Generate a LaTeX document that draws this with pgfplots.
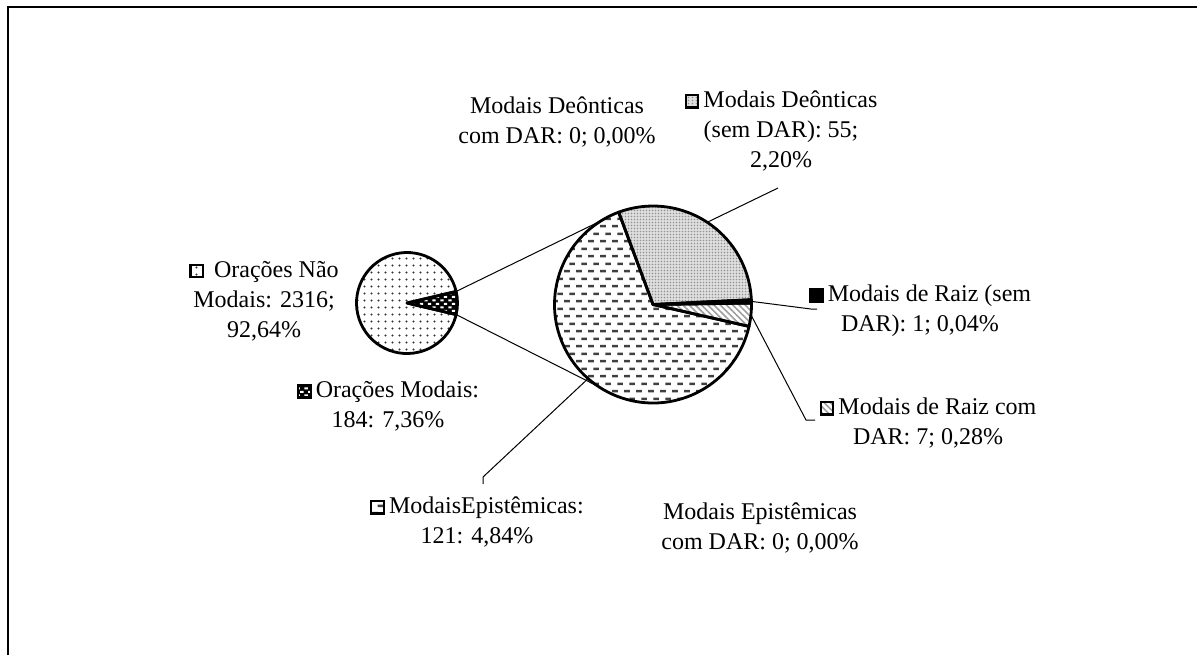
\documentclass[border=0pt]{standalone}
\usepackage{pgfplots}
\pgfplotsset{compat=1.18}
\usepackage{pgfplotstable}
\usetikzlibrary{patterns.meta,calc}
\usepackage{fontspec}
\setmainfont{Liberation Serif}

% ---------- patterns ----------
\pgfdeclarepattern{name=sparsedots, type=uncolored,
  bottom left=\pgfpointorigin, top right={\pgfpoint{3.7pt}{3.7pt}},
  tile size={\pgfpoint{3.7pt}{3.7pt}},
  code={\pgfpathcircle{\pgfpoint{1.85pt}{1.85pt}}{0.6pt}\pgfusepath{fill}}}
\pgfdeclarepattern{name=finedots, type=uncolored,
  bottom left=\pgfpointorigin, top right={\pgfpoint{1.7pt}{1.7pt}},
  tile size={\pgfpoint{1.7pt}{1.7pt}},
  code={\pgfpathcircle{\pgfpoint{0.85pt}{0.85pt}}{0.5pt}\pgfusepath{fill}}}
\pgfdeclarepattern{name=whitedash, type=uncolored,
  bottom left=\pgfpointorigin, top right={\pgfpoint{4pt}{3.4pt}},
  tile size={\pgfpoint{4pt}{3.4pt}},
  code={\pgfpathrectangle{\pgfpoint{0.2pt}{0.3pt}}{\pgfpoint{1.8pt}{1.0pt}}
        \pgfpathrectangle{\pgfpoint{2.2pt}{2.0pt}}{\pgfpoint{1.8pt}{1.0pt}}\pgfusepath{fill}}}
\pgfdeclarepattern{name=hdash, type=uncolored,
  bottom left=\pgfpointorigin, top right={\pgfpoint{6pt}{7.7pt}},
  tile size={\pgfpoint{6pt}{7.7pt}},
  code={\pgfpathrectangle{\pgfpoint{0.1pt}{1.3pt}}{\pgfpoint{3.1pt}{1.3pt}}
        \pgfpathrectangle{\pgfpoint{2.9pt}{5.15pt}}{\pgfpoint{3.0pt}{1.3pt}}\pgfusepath{fill}}}

\tikzset{
  stNaoModais/.style={pattern={sparsedots}, pattern color=black!80},
  stModais/.style={preaction={fill=black}, pattern={whitedash}, pattern color=white},
  stDeon/.style={preaction={fill=gray!25}, pattern={finedots}, pattern color=gray!85},
  stRaizSem/.style={fill=black},
  stRaizCom/.style={preaction={fill=white}, pattern={Lines[angle=-45,distance=2.2pt,line width=0.8pt]}, pattern color=gray!75},
  stEpist/.style={preaction={fill=white}, pattern={hdash}, pattern color=black!75},
  pieline/.style={draw=black, line width=1.4pt, line join=round},
}

\newcommand\sym[1]{\tikz[baseline=0pt]\path[draw=black,line width=1.1pt,#1] (0,0) rectangle (6.3pt,6.3pt);}
\newcommand\wedgeat[6]{\path[#6] (axis cs:#1,#2) -- ++(#4:#3) arc[start angle=#4, end angle=#5, radius=#3] -- cycle;}

% ---------- data ----------
\pgfplotstableread{
name value
OracoesNaoModais 2316
OracoesModais 184
}\primary
\pgfplotstableread{
name value
DeonticasSemDAR 55
DeonticasComDAR 0
RaizSemDAR 1
RaizComDAR 7
Epistemicas 121
EpistemicasComDAR 0
}\secondary

\begin{document}
\begin{tikzpicture}
\pgfplotstablegetelem{0}{value}\of\primary \pgfmathsetmacro\pA{\pgfplotsretval}
\pgfplotstablegetelem{1}{value}\of\primary \pgfmathsetmacro\pB{\pgfplotsretval}
\pgfplotstablegetelem{0}{value}\of\secondary \pgfmathsetmacro\sA{\pgfplotsretval}
\pgfplotstablegetelem{2}{value}\of\secondary \pgfmathsetmacro\sC{\pgfplotsretval}
\pgfplotstablegetelem{3}{value}\of\secondary \pgfmathsetmacro\sD{\pgfplotsretval}
\pgfplotstablegetelem{4}{value}\of\secondary \pgfmathsetmacro\sE{\pgfplotsretval}
\pgfmathsetmacro\half{0.5*\pB/(\pA+\pB)*360}
\pgfmathsetmacro\hneg{-\half}
\pgfmathsetmacro\hrest{360-\half}
\pgfmathsetmacro\tot{\sA+\sC+\sD+\sE}
\pgfmathsetmacro\aA{110.4}
\pgfmathsetmacro\aB{\aA-\sA/\tot*360}
\pgfmathsetmacro\aC{\aB-\sC/\tot*360}
\pgfmathsetmacro\aD{\aC-\sD/\tot*360}
\pgfmathsetmacro\aE{\aD-\sE/\tot*360}
\pgfmathsetmacro\mA{(\aA+\aB)/2}
\pgfmathsetmacro\mC{(\aB+\aC)/2}
\pgfmathsetmacro\mD{(\aC+\aD)/2}
\pgfmathsetmacro\mE{(\aD+\aE)/2}
\pgfmathsetmacro\aAneg{-\aA}
\def\rs{25.25pt}
\def\rb{49.25pt}
\begin{axis}[name=ax, width=598.5pt, height=327.5pt, scale only axis, hide axis,
  xmin=0, xmax=1197, ymin=0, ymax=655, y dir=reverse, clip=false]
% frame
\draw[line width=0.8pt] (axis cs:8,655) -- (axis cs:8,7) -- (axis cs:1197,7);
% connector lines
\draw[line width=0.5pt] ($(axis cs:407,303)+(\half:\rs)$) -- ($(axis cs:653,304.5)+(\aA:\rb)$);
\draw[line width=0.5pt] ($(axis cs:407,303)+(\hneg:\rs)$) -- ($(axis cs:653,304.5)+(\aAneg:\rb)$);
% small pie
\wedgeat{407}{303}{\rs}{\half}{\hrest}{stNaoModais}
\wedgeat{407}{303}{\rs}{\hneg}{\half}{stModais}
\wedgeat{407}{303}{\rs}{\half}{\hrest}{pieline}
\wedgeat{407}{303}{\rs}{\hneg}{\half}{pieline}
% big pie
\wedgeat{653}{304.5}{\rb}{\aA}{\aB}{stDeon}
\wedgeat{653}{304.5}{\rb}{\aB}{\aC}{stRaizSem}
\wedgeat{653}{304.5}{\rb}{\aC}{\aD}{stRaizCom}
\wedgeat{653}{304.5}{\rb}{\aD}{\aE}{stEpist}
\wedgeat{653}{304.5}{\rb}{\aA}{\aB}{pieline}
\wedgeat{653}{304.5}{\rb}{\aB}{\aC}{pieline}
\wedgeat{653}{304.5}{\rb}{\aC}{\aD}{pieline}
\wedgeat{653}{304.5}{\rb}{\aD}{\aE}{pieline}
% leader lines
\draw[line width=0.5pt] ($(axis cs:653,304.5)+(\mA:\rb)$) -- (axis cs:778,188);
\draw[line width=0.5pt] ($(axis cs:653,304.5)+(\mC:\rb)$) -- (axis cs:811,309) -- (axis cs:817,309);
\draw[line width=0.5pt] ($(axis cs:653,304.5)+(\mD:\rb)$) -- (axis cs:806,420) -- (axis cs:815,420);
\draw[line width=0.5pt] ($(axis cs:653,304.5)+(\mE:\rb)$) -- (axis cs:483,477) -- (axis cs:483,484);
% labels
\tikzset{lbl/.style={align=center, inner sep=0pt, font=\fontsize{12}{15}\selectfont}}
\node[lbl] at (axis cs:557,122) {Modais Deônticas\\com DAR: 0; 0,00\%};
\node[lbl] at (axis cs:781,131) {\sym{stDeon}\,Modais Deônticas\\(sem DAR): 55;\\2,20\%};
\node[lbl] at (axis cs:920,311) {\sym{stRaizSem}\,Modais de Raiz (sem\\DAR): 1; 0,04\%};
\node[lbl] at (axis cs:928,423) {\sym{stRaizCom}\,Modais de Raiz com\\DAR: 7; 0,28\%};
\node[lbl] at (axis cs:760,528) {Modais Epistêmicas\\com DAR: 0; 0,00\%};
\node[lbl] at (axis cs:477,522) {\sym{stEpist}\,ModaisEpistêmicas:\\121: 4,84\%};
\node[lbl] at (axis cs:388,406) {\sym{stModais}\,Orações Modais:\\184: 7,36\%};
\node[lbl] at (axis cs:264,301) {\sym{stNaoModais}\,\ Orações Não\\Modais: 2316;\\92,64\%};
\end{axis}
\pgfresetboundingbox
\path[use as bounding box] (ax.south west) rectangle (ax.north east);
\end{tikzpicture}
\end{document}
